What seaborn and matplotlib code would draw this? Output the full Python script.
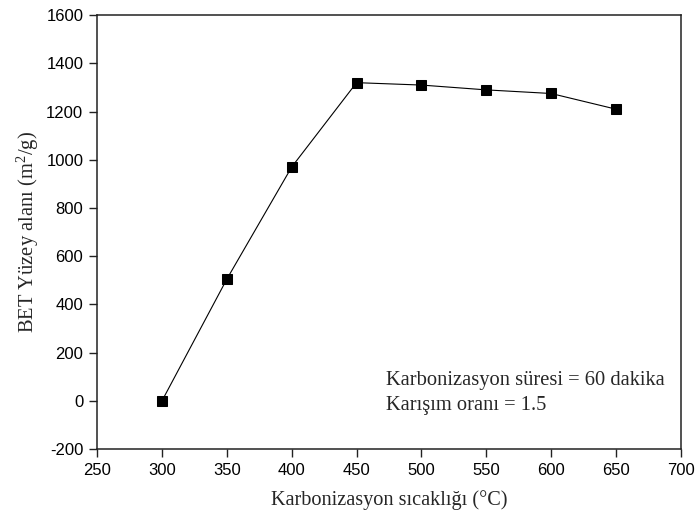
import matplotlib
matplotlib.use("Agg")
import matplotlib.pyplot as plt
import seaborn as sns
import pandas as pd

# Carbonization temperature (°C) vs. BET surface area (m²/g)
temperatures = [300, 350, 400, 450, 500, 550, 600, 650]
surface_area = [0, 505, 970, 1320, 1310, 1290, 1275, 1210]

x_ticks = [250, 300, 350, 400, 450, 500, 550, 600, 650, 700]
y_ticks = [-200, 0, 200, 400, 600, 800, 1000, 1200, 1400, 1600]

sns.set_theme(style="ticks")
plt.rcParams["font.family"] = ["Liberation Sans", "DejaVu Sans"]
plt.rcParams["axes.unicode_minus"] = False
plt.rcParams["mathtext.fontset"] = "custom"
plt.rcParams["mathtext.rm"] = "Liberation Serif"

df = pd.DataFrame({"temp": temperatures, "area": surface_area})

fig = plt.figure(figsize=(6.99, 5.23), dpi=100)
ax = fig.add_axes([0.139, 0.1415, 0.835, 0.8295])

sns.lineplot(data=df, x="temp", y="area", ax=ax, color="black",
             linewidth=0.8, marker="s", markersize=7,
             markerfacecolor="black", markeredgecolor="black")

ax.set_xlim(250, 700)
ax.set_ylim(-200, 1600)
ax.set_xticks(x_ticks)
ax.set_yticks(y_ticks)
ax.tick_params(axis="both", direction="out", length=6, width=1,
               labelsize=12, colors="#222222", labelcolor="black",
               top=False, right=False, pad=4)
for side in ["left", "right", "top", "bottom"]:
    ax.spines[side].set_visible(True)
    ax.spines[side].set_linewidth(1.1)
    ax.spines[side].set_color("#222222")

serif = ["Liberation Serif", "DejaVu Serif"]
ax.set_xlabel("Karbonizasyon sıcaklığı (°C)", family=serif, fontsize=14.6,
              labelpad=9)
ax.set_ylabel("BET Yüzey alanı (m$\\mathregular{^{2}}$/g)", family=serif,
              fontsize=14.8, labelpad=4)

ax.text(472.4, 86, "Karbonizasyon süresi = 60 dakika", family=serif,
        fontsize=14.8, ha="left", va="center")
ax.text(472.4, -18, "Karışım oranı = 1.5", family=serif,
        fontsize=14.8, ha="left", va="center")

fig.savefig("out.png", dpi=100)
